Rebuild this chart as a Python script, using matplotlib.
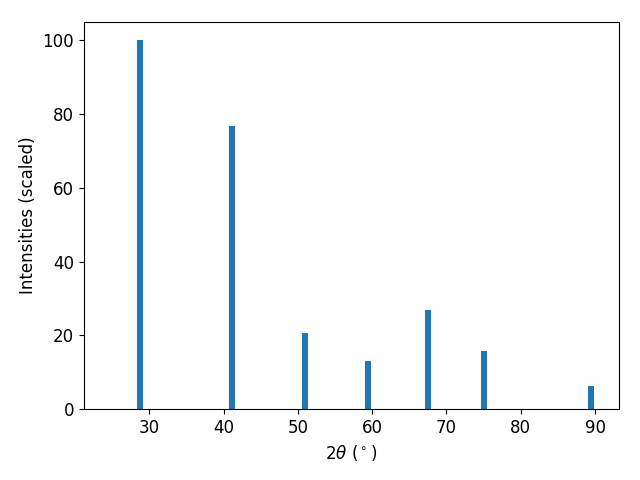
import matplotlib
matplotlib.use("Agg")
import matplotlib.pyplot as plt

two_theta = [28.7, 41.1, 50.9, 59.5, 67.5, 75.0, 89.4]
intensities = [100.0, 76.7, 20.6, 13.0, 26.8, 15.7, 6.2]

plt.rcParams["font.size"] = 12

fig, ax = plt.subplots(figsize=(6.4, 4.8), dpi=100)
ax.bar(two_theta, intensities, width=0.8, color="#1f77b4")
ax.set_xlim(21.17, 93.27)
ax.set_xlabel(r"2$\theta$ ($^\circ$)")
ax.set_ylabel("Intensities (scaled)")
fig.subplots_adjust(left=0.1308, right=0.9677, bottom=0.1473, top=0.9548)
fig.savefig("out.png")
